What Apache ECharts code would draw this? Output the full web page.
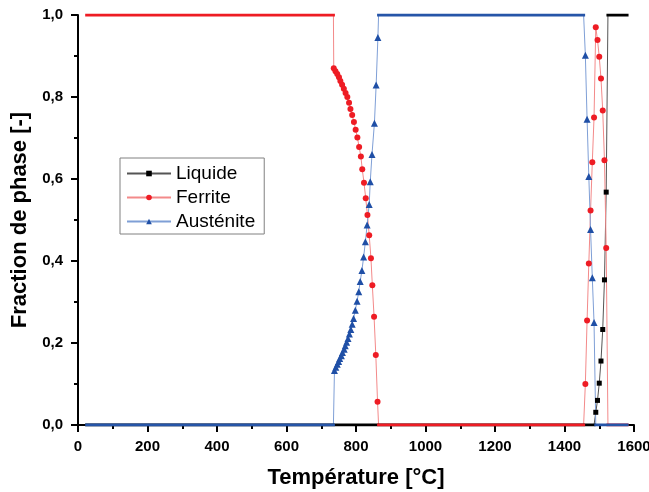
<!DOCTYPE html>
<html>
<head>
<meta charset="utf-8">
<script src="https://cdn.jsdelivr.net/npm/echarts@6/dist/echarts.min.js"></script>
<style>
  html, body { margin: 0; padding: 0; background: #fff; }
  #chart { width: 649px; height: 492px; }
</style>
</head>
<body>
<div id="chart"></div>
<script>
const xTicks = [0, 200, 400, 600, 800, 1000, 1200, 1400, 1600]
const yTicks = [0, 0.2, 0.4, 0.6, 0.8, 1.0]

// Ferrite
const ferriteT1 = [736, 741, 746, 751, 755, 760, 765, 770, 775, 780, 784, 789, 794, 799, 804, 809, 814, 818, 823, 828, 833, 838, 843, 847, 852, 857, 862]
const ferriteV1 = [0.870, 0.863, 0.856, 0.848, 0.839, 0.830, 0.820, 0.810, 0.800, 0.786, 0.771, 0.756, 0.739, 0.720, 0.701, 0.678, 0.655, 0.624, 0.591, 0.553, 0.512, 0.463, 0.407, 0.341, 0.264, 0.171, 0.057]
const ferriteT2 = [1460, 1465, 1470, 1475, 1480, 1485, 1490, 1495, 1500, 1505, 1510, 1515, 1520]
const ferriteV2 = [0.100, 0.255, 0.394, 0.523, 0.641, 0.750, 0.970, 0.939, 0.898, 0.845, 0.767, 0.646, 0.432]
const ferriteFlat = [[[25, 1], [735, 1]], [[865, 0], [1455, 0]], [[1525, 0], [1580, 0]]]

// Austenite
const austT1 = [738, 742, 746, 750, 753, 758, 761, 766, 769, 773, 777, 781, 785, 789, 793, 798, 803, 808, 812, 817, 822, 827, 832, 838, 841, 846, 853, 858, 863]
const austV1 = [0.133, 0.141, 0.148, 0.155, 0.162, 0.169, 0.177, 0.185, 0.193, 0.202, 0.211, 0.222, 0.233, 0.246, 0.260, 0.280, 0.302, 0.325, 0.350, 0.377, 0.410, 0.447, 0.488, 0.538, 0.593, 0.660, 0.736, 0.829, 0.945]
const austT2 = [1460, 1465, 1470, 1475, 1480, 1485]
const austV2 = [0.902, 0.746, 0.606, 0.477, 0.359, 0.250]
const austFlat = [[[25, 0], [735, 0]], [[865, 1], [1455, 1]], [[1490, 0], [1580, 0]]]

// Liquide
const liqT = [1490, 1495, 1500, 1505, 1510, 1515, 1520]
const liqV = [0.031, 0.060, 0.102, 0.156, 0.233, 0.354, 0.568]
const liqFlat = [[[25, 0], [1485, 0]], [[1525, 1], [1580, 1]]]

const font = 'Liberation Sans, Arial, sans-serif'

function pts(T, V) {
  return T.map((t, i) => [t, V[i]])
}
function plain(seg) {
  return seg.map(p => ({ value: p, symbol: 'none' }))
}

const liqData = [...plain(liqFlat[0]), ...pts(liqT, liqV), ...plain(liqFlat[1])]
const ferData = [...plain(ferriteFlat[0]), ...pts(ferriteT1, ferriteV1), ...plain(ferriteFlat[1]),
  ...pts(ferriteT2, ferriteV2), ...plain(ferriteFlat[2])]
const ausData = [...plain(austFlat[0]), ...pts(austT1, austV1), ...plain(austFlat[1]),
  ...pts(austT2, austV2), ...plain(austFlat[2])]

function mainSeries(name, data, symbol, size, markColor, lineColor) {
  return {
    name: name,
    type: 'line',
    data: data,
    symbol: symbol,
    symbolSize: size,
    showAllSymbol: true,
    itemStyle: { color: markColor },
    lineStyle: { color: lineColor, width: 1 },
    emphasis: { disabled: true }
  }
}
// thick segments where a phase stays at 0 or 1
function bandSeries(name, segs, color) {
  return segs.map(seg => ({
    name: name,
    type: 'line',
    data: seg,
    symbol: 'none',
    silent: true,
    itemStyle: { color: color },
    lineStyle: { color: color, width: 3, cap: 'square' }
  }))
}

const chart = echarts.init(document.getElementById('chart'))
chart.setOption({
  animation: false,
  grid: { left: 78, right: 15, top: 15, bottom: 67, outerBoundsMode: 'none' },
  legend: {
    data: ['Liquide', 'Ferrite', 'Austénite'],
    orient: 'vertical',
    left: 120,
    top: 158,
    itemWidth: 44,
    itemHeight: 7,
    itemGap: 5,
    padding: [6, 9, 3, 6],
    borderColor: '#808080',
    borderWidth: 1,
    selectedMode: false,
    textStyle: { fontFamily: font, fontSize: 19, color: '#000' }
  },
  xAxis: {
    type: 'value',
    min: xTicks[0],
    max: xTicks[xTicks.length - 1],
    interval: 200,
    name: 'Température [°C]',
    nameLocation: 'middle',
    nameGap: 42,
    nameTextStyle: { fontFamily: font, fontSize: 22, fontWeight: 'bold', color: '#000' },
    axisLine: { lineStyle: { color: '#000', width: 2 } },
    axisTick: { length: 7, lineStyle: { color: '#000', width: 2 } },
    minorTick: { show: true, splitNumber: 2, length: 4, lineStyle: { color: '#000', width: 2 } },
    splitLine: { show: false },
    axisLabel: {
      margin: 14, fontFamily: font, fontSize: 15, fontWeight: 'bold', color: '#000',
      formatter: v => String(v)
    }
  },
  yAxis: {
    type: 'value',
    min: yTicks[0],
    max: yTicks[yTicks.length - 1],
    interval: 0.2,
    name: 'Fraction de phase [-]',
    nameLocation: 'middle',
    nameGap: 45,
    nameTextStyle: { fontFamily: font, fontSize: 22, fontWeight: 'bold', color: '#000' },
    axisLine: { show: true, lineStyle: { color: '#000', width: 2 } },
    axisTick: { show: true, length: 7, lineStyle: { color: '#000', width: 2 } },
    minorTick: { show: true, splitNumber: 2, length: 4, lineStyle: { color: '#000', width: 2 } },
    splitLine: { show: false },
    axisLabel: {
      margin: 15, fontFamily: font, fontSize: 15, fontWeight: 'bold', color: '#000',
      formatter: v => v.toFixed(1).replace('.', ',')
    }
  },
  series: [
    mainSeries('Liquide', liqData, 'rect', 5, '#000000', '#555555'),
    mainSeries('Ferrite', ferData, 'circle', 6, '#ee1c24', '#f38a8a'),
    mainSeries('Austénite', ausData, 'triangle', 7, '#1f4fa6', '#7f9fd6'),
    ...bandSeries('Liquide', liqFlat, '#000000'),
    ...bandSeries('Ferrite', ferriteFlat, '#ee1c24'),
    ...bandSeries('Austénite', austFlat, '#2655a8')
  ]
})
</script>
</body>
</html>
